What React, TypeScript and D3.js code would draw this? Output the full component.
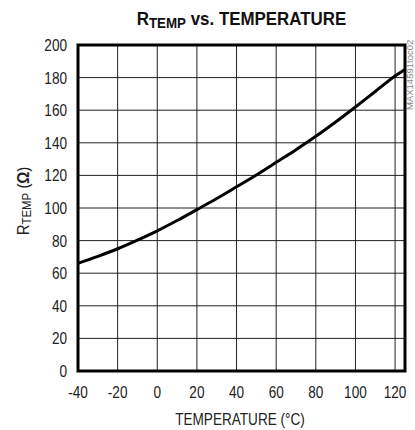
import React from "react";
import * as d3 from "d3";

const temps = [-40, -30, -20, -10, 0, 10, 20, 30, 40, 50, 60, 70, 80, 90, 100, 110, 120, 125];
const rtemp = [66, 70.3, 75, 80.3, 86, 92.3, 99, 105.8, 113, 120.3, 128, 135.8, 144, 152.8, 162, 171.5, 181, 185];
const xTicks = [-40, -20, 0, 20, 40, 60, 80, 100, 120];
const yTicks = [0, 20, 40, 60, 80, 100, 120, 140, 160, 180, 200];

const W = 415, H = 430;
const L = 78, R = 405, T = 45, B = 371;
const FONT = "'Liberation Sans', Arial, sans-serif";
const SX = 0.8;

function NText({ x, y, rotate = 0, sx = SX, children, ...rest }: any) {
  return (
    <g transform={`translate(${x},${y}) rotate(${rotate}) scale(${sx},1)`}>
      <text x={0} y={0} fontFamily={FONT} {...rest}>
        {children}
      </text>
    </g>
  );
}

export default function App() {
  const x = d3.scaleLinear().domain([-40, 125]).range([L, R]);
  const y = d3.scaleLinear().domain([0, 200]).range([B, T]);
  const line = d3.line<number>().x((_, i) => x(temps[i])).y((d) => y(d)).curve(d3.curveMonotoneX);
  return (
    <svg width={W} height={H} style={{ position: "absolute", left: 0, top: 0, background: "#fff" }}>
      <rect x={0} y={0} width={W} height={H} fill="#fff" />
      <NText x={241.5} y={25} sx={0.89} textAnchor="middle" fontWeight="bold" fontSize={19} fill="#111">
        R<tspan fontSize={15} dy={3}>TEMP</tspan><tspan dy={-3}> vs. TEMPERATURE</tspan>
      </NText>
      {xTicks.map((t) => (
        <line key={"vx" + t} x1={x(t)} x2={x(t)} y1={T} y2={B} stroke="#222" strokeWidth={1} />
      ))}
      {yTicks.map((t) => (
        <line key={"hy" + t} x1={L} x2={R} y1={y(t)} y2={y(t)} stroke="#222" strokeWidth={1} />
      ))}
      <path d={line(rtemp) || ""} fill="none" stroke="#000" strokeWidth={3} />
      <rect x={L} y={T} width={R - L} height={B - T} fill="none" stroke="#000" strokeWidth={3} />
      {yTicks.map((t) => (
        <NText key={"yl" + t} x={67} y={y(t) + 6} textAnchor="end" fontSize={17} fill="#222">
          {t}
        </NText>
      ))}
      {xTicks.map((t) => (
        <NText key={"xl" + t} x={x(t)} y={398} textAnchor="middle" fontSize={17} fill="#222">
          {t}
        </NText>
      ))}
      <NText x={240} y={425} textAnchor="middle" fontSize={17} fill="#222">
        TEMPERATURE (°C)
      </NText>
      <NText x={29} y={201} rotate={-90} sx={0.88} textAnchor="middle" fontSize={17} fill="#222">
        R<tspan fontSize={13} dy={2}>TEMP</tspan><tspan dy={-2}> (</tspan><tspan fontWeight="bold">Ω</tspan>)
      </NText>
      <NText x={413} y={110} rotate={-90} sx={1} textAnchor="start" fontSize={9.5} fill="#888">
        MAX14591toc02
      </NText>
    </svg>
  );
}
